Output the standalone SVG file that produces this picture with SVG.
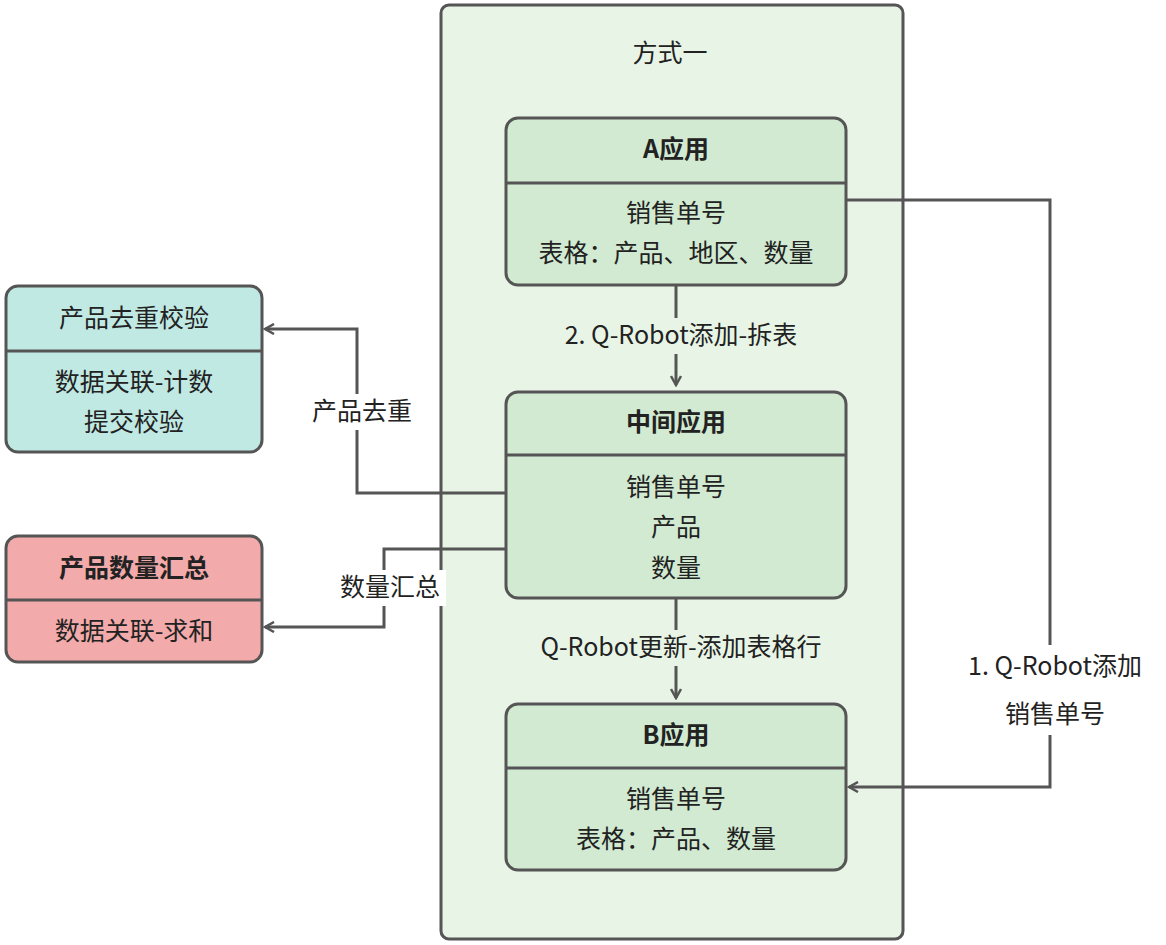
<svg xmlns="http://www.w3.org/2000/svg" width="1166" height="945" viewBox="0 0 1166 945">
<defs>
<style>
text{font-family:"Noto Sans CJK SC","Noto Sans",sans-serif;font-size:25px;fill:#222;text-anchor:middle}
.b{font-weight:bold}
.box{stroke:#555;stroke-width:3}
.ln{fill:none;stroke:#555;stroke-width:3}
.g{fill:#d1ead1}
.lbl{fill:#e8f5e6}
</style>
<marker id="ar" viewBox="0 0 12 12" refX="10" refY="6" markerWidth="12" markerHeight="12" markerUnits="userSpaceOnUse" orient="auto"><path d="M1,1 L10,6 L1,11" fill="none" stroke="#555" stroke-width="2.5"/></marker>
</defs>
<rect width="1166" height="945" fill="#fff"/>
<g id="container"><rect x="441" y="5" width="462" height="934" rx="8" fill="#e8f5e6" class="box"/><text x="670" y="62">方式一</text></g>
<g id="connectors">
<path class="ln" d="M676,285 V385" marker-end="url(#ar)"/>
<rect class="lbl" x="540" y="318" width="282" height="36"/>
<text x="681" y="344">2. Q-Robot添加-拆表</text>
<path class="ln" d="M676,598 V698" marker-end="url(#ar)"/>
<rect class="lbl" x="512" y="630" width="338" height="36"/>
<text x="681" y="656">Q-Robot更新-添加表格行</text>
<path class="ln" d="M846,200 H1050 V787 H849" marker-end="url(#ar)"/>
<rect fill="#fff" x="945" y="645" width="215" height="90"/>
<text x="1055" y="675">1. Q-Robot添加</text>
<text x="1055" y="723">销售单号</text>
<path class="ln" d="M506,493 H357 V329 H265" marker-end="url(#ar)"/>
<rect fill="#fff" x="300" y="394" width="124" height="36"/>
<text x="362" y="420">产品去重</text>
<path class="ln" d="M506,549 H384 V627 H265" marker-end="url(#ar)"/>
<rect fill="#fff" x="330" y="570" width="116" height="36"/>
<text x="390" y="596">数量汇总</text>
</g>
<g id="nodeA"><rect x="506" y="118" width="340" height="167" rx="12" class="box g"/><path class="ln" d="M506,183 H846"/>
<text x="676" y="158" class="b">A应用</text><text x="676" y="222">销售单号</text><text x="676" y="262">表格：产品、地区、数量</text></g>
<g id="nodeMid"><rect x="506" y="392" width="340" height="206" rx="12" class="box g"/><path class="ln" d="M506,455 H846"/>
<text x="676" y="431" class="b">中间应用</text><text x="676" y="496">销售单号</text><text x="676" y="536">产品</text><text x="676" y="577">数量</text></g>
<g id="nodeB"><rect x="506" y="704" width="340" height="166" rx="12" class="box g"/><path class="ln" d="M506,768 H846"/>
<text x="676" y="744" class="b">B应用</text><text x="676" y="808">销售单号</text><text x="676" y="848">表格：产品、数量</text></g>
<g id="nodeDedup"><rect x="6" y="286" width="256" height="166" rx="12" class="box" fill="#c1e9e3"/><path class="ln" d="M6,351 H262"/>
<text x="134" y="327">产品去重校验</text><text x="134" y="391">数据关联-计数</text><text x="134" y="431">提交校验</text></g>
<g id="nodeSum"><rect x="6" y="536" width="256" height="126" rx="12" class="box" fill="#f2aaaa"/><path class="ln" d="M6,600 H262"/>
<text x="134" y="577" class="b">产品数量汇总</text><text x="134" y="640">数据关联-求和</text></g>
</svg>
